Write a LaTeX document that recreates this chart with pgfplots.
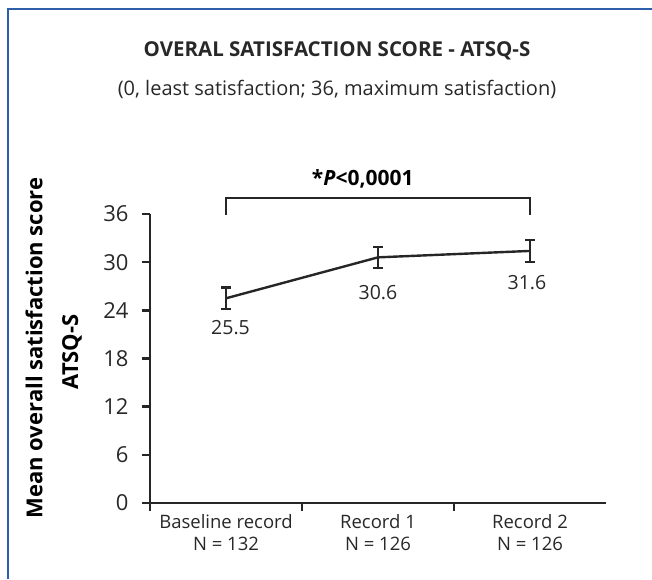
\documentclass[border=0pt]{standalone}
\usepackage{pgfplots}
\pgfplotsset{compat=1.18}
\usepackage{fontspec}
\setmainfont{Open Sans}
\definecolor{framecol}{RGB}{45,95,170}
\definecolor{txt}{RGB}{40,40,40}
\begin{document}
\begin{tikzpicture}[x=1pt,y=1pt]
\path[use as bounding box] (0,0) rectangle (652,579);
\draw[framecol, line width=1.5pt] (8,0) -- (8,570) -- (652,570);
\node[anchor=base, font=\fontsize{20.5}{24}\selectfont\bfseries, text=txt] at (337,522) {OVERAL SATISFACTION SCORE - ATSQ-S};
\node[anchor=base, font=\fontsize{20}{22}\selectfont, text=txt] at (337,483) {(0, least satisfaction; 36, maximum satisfaction)};
\node[rotate=90, font=\fontsize{22}{24}\selectfont\bfseries, text=black] at (34,231) {Mean overall satisfaction score};
\node[rotate=90, font=\fontsize{22}{24}\selectfont\bfseries, text=black] at (72,227) {ATSQ-S};
\begin{axis}[
  at={(150pt,76pt)}, anchor=south west,
  scale only axis, width=456pt, height=289pt,
  xmin=-0.5, xmax=2.5, ymin=0, ymax=36,
  axis x line=bottom, axis y line=left,
  axis line style={line width=2.4pt, -, black!85},
  ytick={0,6,...,36},
  xtick={0,1,2},
  xticklabels={Baseline record\\N = 132, Record 1\\N = 126, Record 2\\N = 126},
  xticklabel style={align=center, font=\fontsize{18.5}{22}\selectfont, text=txt},
  yticklabel style={font=\fontsize{22}{24}\selectfont, text=txt, xshift=-10pt},
  /pgf/number format/assume math mode=true,
  tick align=outside, major tick length=8pt,
  ytick style={line width=2.4pt, black!85},
  xtick style={draw=none},
  extra x ticks={-0.5,0.5,1.5}, extra x tick labels={},
  extra x tick style={xtick style={draw=black!85, line width=2.4pt}},
  clip=false,
]
\addplot[black!85, line width=2.4pt, mark=none,
  error bars/.cd, y dir=both, y explicit,
  error bar style={line width=2.4pt, black!85},
  error mark options={rotate=90, mark size=5pt, line width=2.4pt, black!85}]
  coordinates {(0,25.5) +- (0,1.35) (1,30.6) +- (0,1.3) (2,31.4) +- (0,1.37)};
\node[anchor=base, font=\fontsize{19.5}{22}\selectfont, text=txt] at (axis cs:0.03,21.05) {25.5};
\node[anchor=base, font=\fontsize{19.5}{22}\selectfont, text=txt] at (axis cs:1,25.4) {30.6};
\node[anchor=base, font=\fontsize{19.5}{22}\selectfont, text=txt] at (axis cs:1.98,26.65) {31.6};
\draw[line width=2.4pt, black!85] (axis cs:0,35.9) -- (axis cs:0,38.0) -- (axis cs:2,38.0) -- (axis cs:2,35.9);
\node[anchor=base, font=\fontsize{21}{24}\selectfont\bfseries, text=black] at (axis cs:0.9,39.6) {*\textit{P}<0,0001};
\end{axis}
\end{tikzpicture}
\end{document}
